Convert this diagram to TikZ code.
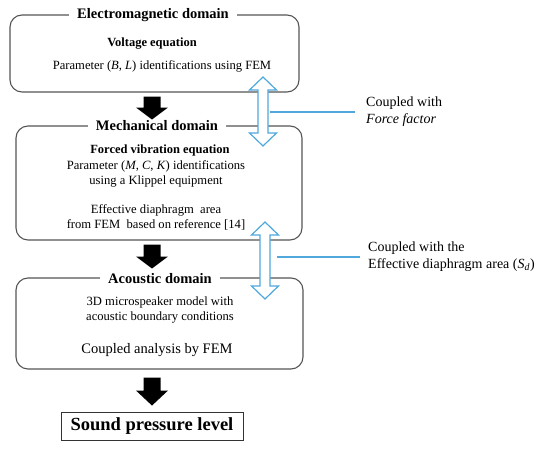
\documentclass[tikz,border=0pt]{standalone}
\usepackage{fontspec}
\setmainfont{Liberation Serif}
\usetikzlibrary{calc}
\definecolor{cblue}{RGB}{80,168,220}
\definecolor{cgray}{RGB}{85,85,85}
\newcommand\dblarr[3]{%
  \draw[cblue, line width=1.2pt, fill=white, line join=miter]
    (#1,#2) -- ({#1+13.5},{#2+13}) -- ({#1+5},{#2+13}) -- ({#1+5},{#3-13})
    -- ({#1+13.5},{#3-13}) -- (#1,#3) -- ({#1-13.5},{#3-13}) -- ({#1-5},{#3-13})
    -- ({#1-5},{#2+13}) -- ({#1-13.5},{#2+13}) -- cycle;}
\newcommand\fatarr[3]{%
  \fill[black] ($(#1)+(-8.5,0)$) -- ($(#1)+(8.5,0)$) -- ($(#2)+(8.5,-#3)$)
    -- ($(#2)+(16,-#3)$) -- (#2) -- ($(#2)+(-16,-#3)$) -- ($(#2)+(-8.5,-#3)$) -- cycle;}
\begin{document}
\begin{tikzpicture}[x=1pt,y=-1pt,
  domainbox/.style={draw=cgray, line width=1.1pt, rounded corners=12pt, minimum width=#1, inner sep=0pt},
  titletext/.style={fill=white, inner xsep=8pt, inner ysep=1pt, font=\bfseries\fontsize{14.5}{17}\selectfont},
  subtext/.style={font=\bfseries\fontsize{12.5}{14.5}\selectfont, inner sep=0pt},
  bodytext/.style={font=\fontsize{12.6}{14.5}\selectfont, align=center, inner sep=0pt},
  labeltext/.style={font=\fontsize{14}{17}\selectfont, align=left, inner sep=0pt, anchor=west},
  linkline/.style={cblue, line width=1.1pt}]
\useasboundingbox (0,0) rectangle (550,449);

% boxes
\node[domainbox=289pt, minimum height=77pt] (box1) at (154.5,53.5) {};
\node[domainbox=286pt, minimum height=114pt] (box2) at (159,183) {};
\node[domainbox=287pt, minimum height=91pt] (box3) at (159.5,323.5) {};
\node[draw=black!80, line width=0.9pt, minimum width=182pt, minimum height=28pt, inner sep=0pt,
      font=\bfseries\fontsize{18.5}{20}\selectfont] (spl) at (152,426) {Sound pressure level};

% titles
\node[titletext] (t1) at (153,15) {Electromagnetic domain};
\node[titletext] (t2) at (157,126) {Mechanical domain};
\node[titletext] (t3) at (160,278.5) {Acoustic domain};

% contents
\node[subtext] (v1) at (152,44) {Voltage equation};
\node[bodytext] (p1) at (162,66) {Parameter (\textit{B}, \textit{L}) identifications using FEM};
\node[subtext] (f2) at (160,150) {Forced vibration equation};
\node[bodytext] (p2) at (156,174) {Parameter (\textit{M}, \textit{C}, \textit{K}) identifications\\using a Klippel equipment};
\node[bodytext] (e2) at (156,217.5) {Effective diaphragm\ \ area\\from FEM\ \ based on reference [14]};
\node[bodytext, font=\fontsize{12.6}{15}\selectfont] (a3) at (160,309.5) {3D microspeaker model with\\acoustic boundary conditions};
\node[bodytext, font=\fontsize{14.5}{17}\selectfont] (c3) at (157,350) {Coupled analysis by FEM};

% black arrows
\coordinate (a1s) at ([xshift=-2.5pt,yshift=-4pt]box1.south);
\coordinate (a1e) at ([xshift=-2.5pt,yshift=-27pt]box1.south);
\coordinate (a2s) at ([xshift=-7pt,yshift=-4pt]box2.south);
\coordinate (a2e) at ([xshift=-7pt,yshift=-28pt]box2.south);
\coordinate (a3s) at ([xshift=-7.5pt,yshift=-8pt]box3.south);
\coordinate (a3e) at ([yshift=6pt]spl.north);
\fatarr{a1s}{a1e}{12}
\fatarr{a2s}{a2e}{12}
\fatarr{a3s}{a3e}{15}

% coupling arrows
\dblarr{263}{77}{146}
\dblarr{265}{222}{299}
\coordinate (c1) at (270,112);
\coordinate (c2) at (277,257);

% coupling labels
\node[labeltext] (lab1) at (366,111.5) {Coupled with\\\textit{Force factor}};
\node[labeltext] (lab2) at (368,256.5) {Coupled with the\\Effective diaphragm area (\textit{S}\textsubscript{\textit{d}})};
\draw[linkline] (c1) -- ([xshift=-11pt]c1 -| lab1.west);
\draw[linkline] (c2) -- ([xshift=-8pt]c2 -| lab2.west);
\end{tikzpicture}
\end{document}
